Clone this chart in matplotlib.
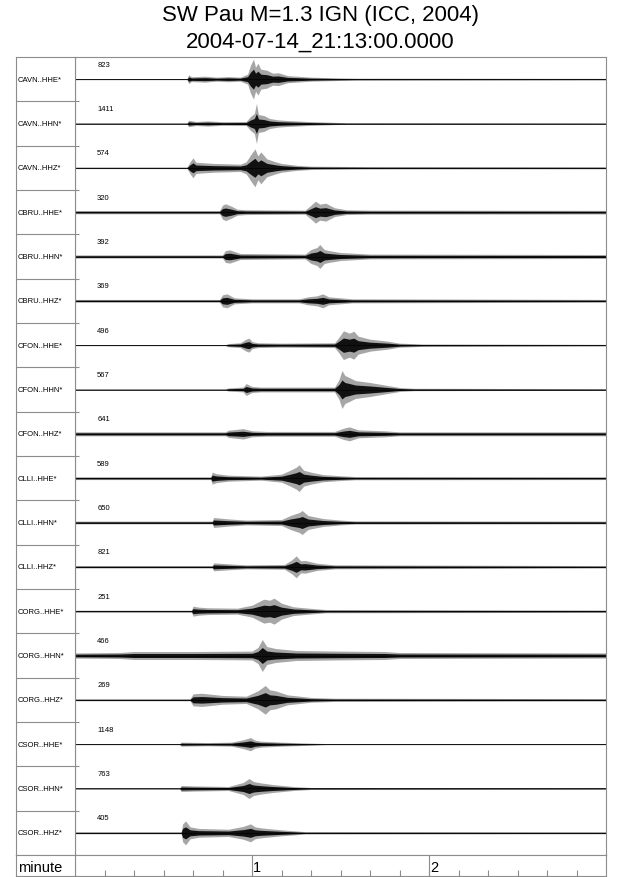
import matplotlib
matplotlib.use("Agg")
import matplotlib.pyplot as plt

plt.rcParams['font.family'] = ['Liberation Sans', 'DejaVu Sans']

title1 = "SW Pau M=1.3 IGN (ICC, 2004)"
title2 = "2004-07-14_21:13:00.0000"

stations = ["CAVN..HHE*", "CAVN..HHN*", "CAVN..HHZ*",
            "CBRU..HHE*", "CBRU..HHN*", "CBRU..HHZ*",
            "CFON..HHE*", "CFON..HHN*", "CFON..HHZ*",
            "CLLI..HHE*", "CLLI..HHN*", "CLLI..HHZ*",
            "CORG..HHE*", "CORG..HHN*", "CORG..HHZ*",
            "CSOR..HHE*", "CSOR..HHN*", "CSOR..HHZ*"]
peak_counts = [823, 1411, 574, 320, 392, 369, 496, 567, 641,
               589, 650, 821, 251, 466, 269, 1148, 763, 405]

# envelope of each trace: (seconds after start, half amplitude)
cavn_hhe = [(0, .03), (38, .03), (38.5, .22), (39.5, .12), (44, .15), (48, .1), (52, .13),
            (56, .1), (58.5, .25), (59.5, .7), (60.5, 1.0), (61.2, .6), (62, .8), (63, .5),
            (65, .45), (67, .3), (69, .32), (72, .18), (75, .15), (80, .1), (88, .07),
            (95, .05), (180, .04)]
cavn_hhn = [(0, .03), (38, .03), (38.5, .16), (41, .1), (45, .13), (50, .09), (58, .1),
            (59.5, .35), (60.8, .5), (61.5, 1.0), (62.2, .45), (64, .4), (66, .25), (69, .18),
            (72, .15), (79, .1), (87, .06), (92, .04), (180, .03)]
cavn_hhz = [(0, .04), (38, .04), (39, .3), (40, .5), (41, .28), (44, .25), (47, .22), (52, .2),
            (56, .18), (58, .3), (60, .75), (61, .95), (62, .6), (63, .8), (65, .45), (68, .3),
            (70, .22), (75, .13), (80, .08), (100, .06), (180, .05)]
cbru_hhe = [(0, .08), (49, .08), (50, .35), (51, .42), (53, .3), (55, .15), (58, .12), (78, .1),
            (80, .35), (81.5, .55), (83, .4), (85, .45), (88, .22), (92, .12), (100, .1),
            (180, .09)]
cbru_hhn = [(0, .08), (50, .08), (51, .3), (52.5, .33), (56, .15), (78, .12), (80, .35),
            (82, .45), (83, .6), (84.5, .35), (86, .3), (90, .2), (100, .12), (180, .1)]
cbru_hhz = [(0, .07), (49, .07), (50, .3), (51.5, .35), (54, .15), (60, .1), (76, .1), (79, .2),
            (82, .25), (84, .35), (86, .2), (90, .15), (94, .1), (180, .07)]
cfon_hhe = [(0, .03), (51, .03), (52, .08), (56, .12), (58, .3), (59, .35), (60, .18),
            (62, .12), (70, .1), (88, .12), (89.5, .4), (91, .72), (93, .6), (94.5, .7),
            (96, .45), (100, .3), (106, .2), (110, .1), (118, .06), (180, .04)]
cfon_hhn = [(0, .03), (51, .03), (52, .08), (57, .12), (58, .3), (60, .15), (63, .12),
            (88, .12), (89.5, .5), (90.5, .95), (91.5, .7), (93, .6), (95, .45), (100, .35),
            (106, .2), (110, .1), (115, .06), (180, .04)]
cfon_hhz = [(0, .1), (51, .1), (52, .18), (57, .26), (60, .15), (65, .12), (88, .12), (91, .28),
            (93, .35), (96, .2), (105, .15), (110, .1), (180, .1)]
clli_hhe = [(0, .07), (46, .07), (46.5, .3), (48, .22), (52, .15), (63, .1), (70, .2),
            (73, .4), (75, .55), (76, .67), (77.5, .4), (80, .3), (84, .18), (90, .12),
            (95, .08), (180, .07)]
clli_hhn = [(0, .07), (46.5, .07), (47, .25), (52, .18), (58, .12), (70, .15), (73, .35),
            (76, .5), (77, .6), (79, .35), (84, .2), (90, .12), (95, .08), (180, .07)]
clli_hhz = [(0, .06), (46.5, .06), (47, .2), (52, .15), (58, .1), (71, .12), (73.5, .35),
            (75, .55), (76.5, .3), (78, .32), (82, .18), (88, .1), (180, .06)]
corg_hhe = [(0, .05), (39.5, .05), (40, .25), (42, .2), (45, .17), (55, .15), (60, .3),
            (62, .45), (64, .6), (66, .55), (67.5, .65), (70, .4), (74, .22), (80, .14),
            (85, .08), (180, .06)]
corg_hhn = [(0, .13), (15, .15), (20, .2), (40, .2), (60, .22), (62, .4), (63.5, .8),
            (65, .45), (68, .35), (75, .25), (90, .22), (105, .2), (110, .15), (180, .13)]
corg_hhz = [(0, .05), (39, .05), (40, .3), (43, .33), (50, .22), (58, .18), (62, .45),
            (64.5, .72), (66, .5), (68, .45), (72, .25), (80, .12), (88, .08), (180, .06)]
csor_hhe = [(0, .03), (35.5, .03), (36, .1), (45, .08), (53, .1), (57, .22), (59.5, .33),
            (61, .2), (63, .15), (70, .1), (78, .06), (85, .03), (180, .03)]
csor_hhn = [(0, .03), (35.5, .03), (36, .15), (40, .13), (52, .1), (57, .3), (59, .5),
            (60.5, .35), (63, .28), (67, .2), (74, .1), (80, .05), (180, .04)]
csor_hhz = [(0, .05), (36, .05), (36.5, .45), (37.5, .6), (39, .3), (42, .22), (52, .18),
            (57, .32), (59.5, .45), (61, .3), (63, .25), (70, .15), (78, .06), (180, .05)]

traces = [cavn_hhe, cavn_hhn, cavn_hhz, cbru_hhe, cbru_hhn, cbru_hhz,
          cfon_hhe, cfon_hhn, cfon_hhz, clli_hhe, clli_hhn, clli_hhz,
          corg_hhe, corg_hhn, corg_hhz, csor_hhe, csor_hhn, csor_hhz]

minute_ticks = [60, 120]
minute_labels = ["1", "2"]

W, H = 640, 878
fig = plt.figure(figsize=(W / 100, H / 100), dpi=100)
grey = "#8c8c8c"

def box(x0, y0, x1, y1):
    return [x0 / W, 1 - y1 / H, (x1 - x0) / W, (y1 - y0) / H]

n = len(stations)
ax = fig.add_axes(box(75, 58, 606, 856))
lab = fig.add_axes(box(16, 58, 75, 856))
bot = fig.add_axes(box(75, 856, 606, 877))
botlab = fig.add_axes(box(16, 856, 75, 877))

scale = 0.45  # one unit of amplitude in row heights
for i, tr in enumerate(traces):
    c = i + 0.5
    t = [p[0] for p in tr]
    a = [p[1] for p in tr]
    ax.fill_between(t, [c - v * scale for v in a], [c + v * scale for v in a],
                    color="#a6a6a6", lw=0)
    ax.fill_between(t, [c - v * scale * 0.5 for v in a], [c + v * scale * 0.5 for v in a],
                    color="#111111", lw=0)
    ax.plot([t[0], t[-1]], [c, c], color="black", lw=0.5)
    ax.text(7.5, i + 0.16, str(peak_counts[i]), fontsize=5.5, ha="left", va="center")

ax.set_xlim(0, 180)
ax.set_ylim(n, 0)
ax.set_xticks([])
ax.set_yticks(range(1, n))
ax.tick_params(axis="y", direction="in", length=3, color=grey, labelleft=False)

lab.set_xlim(0, 1)
lab.set_ylim(n, 0)
lab.set_xticks([])
lab.set_yticks([])
for i in range(1, n):
    lab.axhline(i, color=grey, lw=0.8)
for i, s in enumerate(stations):
    lab.text(0.03, i + 0.5, s, fontsize=5.5, ha="left", va="center")

bot.set_xlim(0, 180)
bot.set_ylim(0, 1)
bot.set_yticks([])
bot.set_xticks(range(10, 180, 10))
bot.tick_params(axis="x", direction="in", length=4, color=grey, labelbottom=False)
for tk, tl in zip(minute_ticks, minute_labels):
    bot.axvline(tk, color=grey, lw=0.8)
    bot.text(tk + 0.3, 0.45, tl, fontsize=10.5, ha="left", va="center")

botlab.set_xticks([])
botlab.set_yticks([])
botlab.text(0.03, 0.45, "minute", fontsize=10.5, ha="left", va="center",
            transform=botlab.transAxes)

for a_ in (ax, lab, bot, botlab):
    for sp in a_.spines.values():
        sp.set_color(grey)
        sp.set_linewidth(0.8)

fig.text(0.5, 1 - 15 / H, title1, fontsize=16, ha="center", va="center")
fig.text(0.5, 1 - 42 / H, title2, fontsize=16, ha="center", va="center")

fig.savefig("out.png", dpi=100)
